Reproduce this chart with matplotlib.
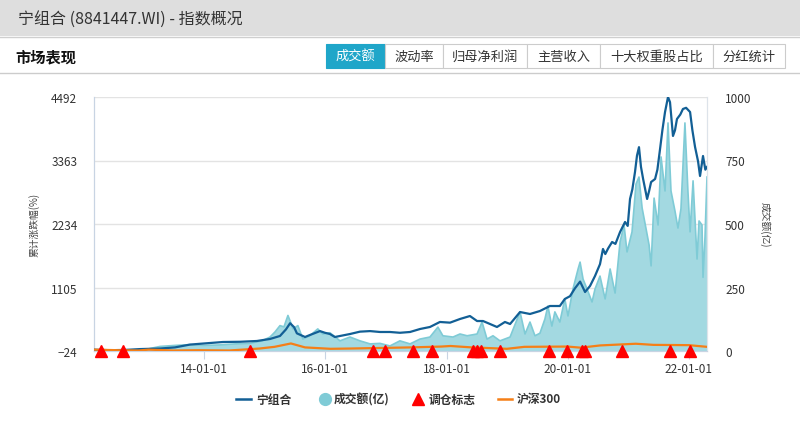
import matplotlib
matplotlib.use("Agg")
import matplotlib.pyplot as plt
import matplotlib.dates as mdates
from matplotlib.patches import Rectangle
from matplotlib.lines import Line2D
import pandas as pd

plt.rcParams['font.family'] = ['Noto Sans CJK SC', 'DejaVu Sans']

# ---------------- data ----------------
nav_dates = ['2012-03-08','2012-06-13','2012-09-11','2012-12-10','2013-04-10','2013-07-09','2013-10-07',
             '2014-01-01','2014-04-24','2014-08-05','2014-11-15','2015-02-02','2015-04-03','2015-05-09',
             '2015-06-03','2015-06-27','2015-07-14','2015-09-01','2015-09-30','2015-11-30','2015-12-30',
             '2016-01-29','2016-02-28','2016-03-30','2016-05-29','2016-07-28','2016-09-27','2016-11-26',
             '2017-01-25','2017-03-26','2017-05-26','2017-07-25','2017-09-23','2017-11-22','2018-01-22',
             '2018-03-23','2018-05-22','2018-07-04','2018-08-09','2018-09-20','2018-11-01','2018-12-19',
             '2019-01-19','2019-03-20','2019-05-19','2019-07-18','2019-09-16','2019-11-15','2019-12-15',
             '2020-01-15','2020-02-14','2020-03-16','2020-04-15','2020-05-15','2020-06-14','2020-07-14',
             '2020-08-01','2020-08-15','2020-09-01','2020-09-25','2020-10-15','2020-11-12','2020-12-12',
             '2020-12-28','2021-01-11','2021-01-25','2021-02-10','2021-02-22','2021-03-06','2021-03-18',
             '2021-03-31','2021-04-24','2021-05-06','2021-05-18','2021-06-11','2021-06-25','2021-07-11',
             '2021-07-25','2021-08-10','2021-08-28','2021-09-09','2021-09-27','2021-10-09','2021-10-21',
             '2021-11-10','2021-11-26','2021-12-15','2022-01-08','2022-01-22','2022-02-07','2022-02-25',
             '2022-03-09','2022-03-27','2022-04-10','2022-04-20']
nav_values = [0, -10, -5, 10, 20, 40, 90,
              110, 136, 140, 154, 190, 243, 360,
              470, 400, 290, 225, 260, 330, 300,
              278, 225, 243, 278, 320, 330, 314,
              314, 300, 314, 367, 403, 492, 480,
              545, 598, 509, 509, 456, 403, 492,
              456, 669, 634, 687, 776, 776, 901,
              950, 1090, 1210, 1025, 1132, 1310, 1520,
              1790, 1700, 1800, 1914, 1880, 2092, 2270,
              2200, 2679, 2850, 3159, 3450, 3600, 3250,
              3034, 2679, 2820, 2980, 3034, 3200, 3568,
              3900, 4225, 4492, 4400, 3799, 3900, 4101,
              4180, 4279, 4300, 4225, 3900, 3603, 3350,
              3088, 3443, 3200, 3248]

vol_dates = ['2012-03-08','2012-12-10','2013-02-10','2013-04-10','2013-07-09','2013-10-07','2014-01-01',
             '2014-04-06','2014-07-06','2014-10-04','2014-12-16','2015-02-02','2015-03-04','2015-04-03',
             '2015-04-27','2015-05-21','2015-06-08','2015-06-20','2015-07-20','2015-08-19','2015-09-30',
             '2015-11-17','2015-12-17','2016-01-29','2016-03-30','2016-05-29','2016-07-28','2016-09-27',
             '2016-11-26','2017-01-25','2017-03-26','2017-05-26','2017-07-25','2017-09-23','2017-11-10',
             '2017-12-10','2018-02-09','2018-03-23','2018-05-05','2018-07-04','2018-08-03','2018-09-02',
             '2018-10-08','2018-11-19','2019-01-19','2019-03-20','2019-04-19','2019-05-19','2019-06-18',
             '2019-07-18','2019-08-17','2019-09-04','2019-09-28','2019-10-16','2019-11-15','2019-12-15',
             '2020-01-03','2020-02-02','2020-03-04','2020-03-16','2020-04-03','2020-04-27','2020-05-27',
             '2020-06-14','2020-07-14','2020-08-14','2020-09-13','2020-10-13','2020-11-12','2020-12-06',
             '2020-12-24','2021-01-23','2021-02-16','2021-03-06','2021-03-25','2021-04-18','2021-05-06',
             '2021-05-18','2021-06-05','2021-06-29','2021-07-17','2021-08-10','2021-08-28','2021-09-15',
             '2021-10-09','2021-10-27','2021-11-14','2021-12-08','2021-12-26','2022-01-08','2022-01-26',
             '2022-02-19','2022-03-03','2022-03-21','2022-03-27','2022-04-08','2022-04-20']
vol_values = [0, 0, 10, 18, 22, 25, 22,
              24, 28, 30, 40, 55, 75, 100,
              95, 140, 110, 87, 100, 47, 60,
              87, 67, 72, 40, 55, 40, 28,
              30, 20, 40, 28, 47, 55, 94,
              60, 55, 67, 60, 67, 114, 47,
              60, 40, 55, 154, 67, 114, 60,
              70, 126, 177, 98, 154, 114, 205,
              138, 244, 323, 350, 283, 244, 193,
              244, 295, 205, 323, 228, 430, 496,
              390, 469, 657, 685, 563, 480, 417,
              335, 602, 496, 764, 630, 898, 630,
              551, 484, 560, 898, 630, 469, 670,
              362, 512, 496, 290, 450, 685]

hs300_dates = ['2012-03-08','2012-08-01','2012-12-01','2013-02-01','2013-07-01','2013-12-01','2014-06-01',
               '2014-12-01','2015-03-01','2015-06-08','2015-09-01','2016-02-01','2016-06-01','2016-12-01',
               '2017-06-01','2017-12-01','2018-01-25','2018-06-01','2018-12-31','2019-04-15','2019-12-31',
               '2020-03-20','2020-07-15','2021-02-15','2021-06-01','2021-12-31','2022-04-20']
hs300_values = [0, -10, -15, 0, -15, -10, -15,
                20, 50, 110, 40, 15, 20, 30,
                40, 55, 65, 40, 15, 50, 55,
                35, 75, 105, 85, 80, 50]

rebalance_dates = ['2012-04-20','2012-08-29','2014-10-04','2016-10-16','2016-12-27','2017-06-13',
                   '2017-10-05','2018-06-10','2018-07-04','2018-07-28','2018-11-19','2019-09-10',
                   '2019-12-28','2020-03-28','2020-04-15','2020-11-24','2021-09-09','2022-01-08']

left_ticks = [-24, 1105, 2234, 3363, 4492]
right_ticks = [0, 250, 500, 750, 1000]
x_ticks = ['2014-01-01', '2016-01-01', '2018-01-01', '2020-01-01', '2022-01-01']
tabs = ['成交额', '波动率', '归母净利润', '主营收入', '十大权重股占比', '分红统计']
tab_edges = [326, 385, 443, 527, 600, 713, 785]

# ---------------- figure ----------------
W, H = 800, 427
fig = plt.figure(figsize=(W / 100, H / 100), dpi=100)

def fx(px):
    return px / W

def fy(py):
    return 1 - py / H

# header band
fig.patches.append(Rectangle((0, fy(37)), 1, 37 / H, transform=fig.transFigure,
                             facecolor='#dedede', edgecolor='none', zorder=0))
fig.add_artist(Line2D([0, 1], [fy(37.5), fy(37.5)], color='#cfcfcf', lw=1))
fig.text(fx(18), fy(19), '宁组合 (8841447.WI) - 指数概况', fontsize=11.5, color='#333333',
         va='center', ha='left')
fig.text(fx(15), fy(57), '市场表现', fontsize=11, fontweight='bold', color='#111111',
         va='center', ha='left')
fig.add_artist(Line2D([0, 1], [fy(74), fy(74)], color='#cccccc', lw=1))

for i, t in enumerate(tabs):
    x0, x1 = tab_edges[i], tab_edges[i + 1]
    active = i == 0
    fig.patches.append(Rectangle((fx(x0), fy(69)), (x1 - x0) / W, 24 / H, transform=fig.transFigure,
                                 facecolor='#1fa6c9' if active else 'white',
                                 edgecolor='#1fa6c9' if active else '#cccccc', lw=0.8, zorder=1))
    fig.text(fx((x0 + x1) / 2), fy(57), t, fontsize=9.5, color='white' if active else '#333333',
             va='center', ha='center', zorder=2)

# axes
ax = fig.add_axes([fx(94), fy(352), (707 - 94) / W, (352 - 98) / H])
ax2 = ax.twinx()

nd = pd.to_datetime(nav_dates)
vd = pd.to_datetime(vol_dates)
hd = pd.to_datetime(hs300_dates)
rd = pd.to_datetime(rebalance_dates)

ax2.fill_between(vd, 0, vol_values, facecolor='#a3d9e1', edgecolor='none', zorder=1)
ax2.plot(vd, vol_values, color='#7fcbd6', lw=1.2, zorder=2)
ax2.set_ylim(0, 1000)
ax2.set_yticks(right_ticks)

ax.set_zorder(ax2.get_zorder() + 1)
ax.patch.set_visible(False)
ax.plot(nd, nav_values, color='#125f95', lw=1.6, zorder=3)
ax.plot(hd, hs300_values, color='#f57f17', lw=1.6, zorder=4)
ax.plot(rd, [-24] * len(rd), linestyle='none', marker='^', markersize=8.5, color='#ff0000',
        clip_on=False, zorder=5)
ax.set_ylim(-24, 4492)
ax.set_yticks(left_ticks)
ax.set_xlim(pd.Timestamp('2012-03-08'), pd.Timestamp('2022-04-20'))
ax.set_xticks(pd.to_datetime(x_ticks))
ax.xaxis.set_major_formatter(mdates.DateFormatter('%y-%m-%d'))

# horizontal grid lines (drawn on background axis, at left-axis tick positions)
for v in left_ticks[1:]:
    ax2.axhline((v + 24) / (4492 + 24) * 1000, color='#e3e3e3', lw=1, zorder=0)

for a in (ax, ax2):
    a.spines['top'].set_visible(False)
    a.spines['left'].set_color('#c8d4e3')
    a.spines['right'].set_color('#dde3ea')
    a.spines['bottom'].set_color('#c8d4e3')
ax.tick_params(axis='y', length=0, labelsize=8.5, labelcolor='#333333', pad=12)
ax2.tick_params(axis='y', length=0, labelsize=8.5, labelcolor='#333333', pad=13)
ax.tick_params(axis='x', length=6, color='#c8d4e3', labelsize=8.5, labelcolor='#333333', pad=2)
ax2.tick_params(axis='x', length=0)

fig.text(fx(34), fy(225), '累计涨跌幅(%)', rotation=90, fontsize=7, color='#444444',
         va='center', ha='center')
fig.text(fx(765), fy(225), '成交额(亿)', rotation=-90, fontsize=7, color='#444444',
         va='center', ha='center')

# legend
ly = fy(400)
fig.add_artist(Line2D([fx(236), fx(251)], [ly, ly], color='#125f95', lw=1.8))
fig.text(fx(256), ly, '宁组合', fontsize=8.5, fontweight='bold', color='#333333', va='center')
fig.add_artist(Line2D([fx(325)], [ly], marker='o', markersize=8.5, color='#7fcbd6', linestyle='none'))
fig.text(fx(334), ly, '成交额(亿)', fontsize=8.5, fontweight='bold', color='#333333', va='center')
fig.add_artist(Line2D([fx(418)], [ly], marker='^', markersize=8, color='#ff0000', linestyle='none'))
fig.text(fx(429), ly, '调仓标志', fontsize=8.5, fontweight='bold', color='#333333', va='center')
fig.add_artist(Line2D([fx(498), fx(512)], [ly, ly], color='#f57f17', lw=1.8))
fig.text(fx(517), ly, '沪深300', fontsize=8.5, fontweight='bold', color='#333333', va='center')

fig.savefig('out.png', dpi=100)
